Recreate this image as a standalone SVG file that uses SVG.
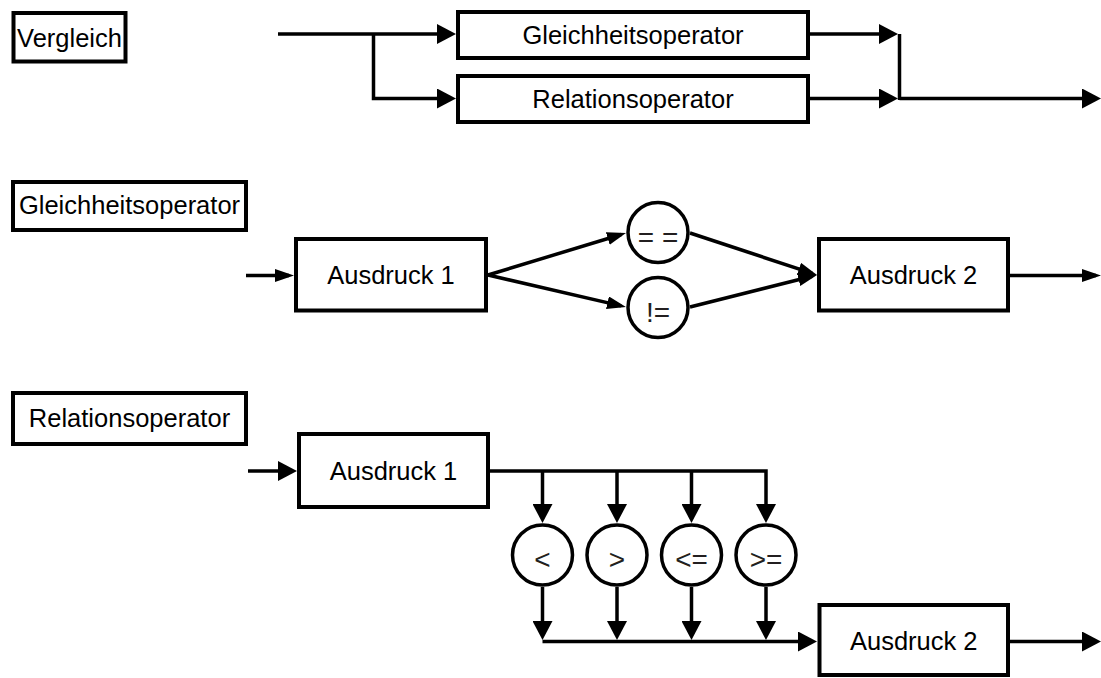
<svg xmlns="http://www.w3.org/2000/svg" width="1101" height="678" viewBox="0 0 1101 678">
  <style>
    .box { fill: #fff; stroke: #000; stroke-width: 4; }
    .op { fill: #fff; stroke: #000; stroke-width: 3.5; }
    .lbl { font-family: "Liberation Sans", Arial, sans-serif; font-size: 25.5px; fill: #000; text-anchor: middle; }
    .sym { font-family: "Liberation Sans", Arial, sans-serif; font-size: 28px; fill: #231f20; text-anchor: middle; }
    .wire { fill: none; stroke: #000; stroke-width: 3.5; }
    .big { marker-end: url(#arrow); }
    .slim { marker-end: url(#arrow-slim); }
  </style>
  <defs>
    <marker id="arrow" markerUnits="userSpaceOnUse" markerWidth="19" markerHeight="20" refX="14" refY="10" orient="auto">
      <path d="M0,0 L19,10 L0,20 Z" fill="#000"/>
    </marker>
    <marker id="arrow-slim" markerUnits="userSpaceOnUse" markerWidth="19" markerHeight="13" refX="14" refY="6.5" orient="auto">
      <path d="M0,0 L19,6.5 L0,13 Z" fill="#000"/>
    </marker>
  </defs>
  <rect width="1101" height="678" fill="#fff"/>

  <!-- connectors -->
  <g id="connectors">
    <!-- Vergleich -->
    <path class="wire big" d="M278,34 H451"/>
    <path class="wire big" d="M373.5,34 V98.5 H451"/>
    <path class="wire big" d="M810,34 H893"/>
    <path class="wire big" d="M810,98.5 H893"/>
    <path class="wire" d="M899.5,34 V100"/>
    <path class="wire big" d="M899.5,98.5 H1096"/>

    <!-- Gleichheitsoperator -->
    <path class="wire slim" d="M246,275.5 H289"/>
    <path class="wire slim" d="M488,275 L621.2,234.5"/>
    <path class="wire slim" d="M488,275 L621.1,305.9"/>
    <path class="wire slim" d="M690,233 L812.3,273.4"/>
    <path class="wire slim" d="M690,307 L812.2,276.2"/>
    <path class="wire slim" d="M1010,275.5 H1096"/>

    <!-- Relationsoperator -->
    <path class="wire big" d="M248,471 H292"/>
    <path class="wire big" d="M490,471 H766 V518"/>
    <path class="wire big" d="M542.5,471 V518"/>
    <path class="wire big" d="M617,471 V518"/>
    <path class="wire big" d="M691.5,471 V518"/>
    <path class="wire big" d="M542.5,587 V635"/>
    <path class="wire big" d="M617,587 V635"/>
    <path class="wire big" d="M691.5,587 V635"/>
    <path class="wire big" d="M766,587 V635"/>
    <path class="wire big" d="M542.5,641.5 H812"/>
    <path class="wire big" d="M1010,641.5 H1096"/>
  </g>

  <!-- Vergleich -->
  <g id="title-vergleich">
    <rect class="box" x="13.5" y="13" width="112" height="48.5"/>
    <text class="lbl" x="69.5" y="47">Vergleich</text>
  </g>
  <g id="v-gleichheitsoperator">
    <rect class="box" x="458" y="12" width="350" height="46"/>
    <text class="lbl" x="633" y="44">Gleichheitsoperator</text>
  </g>
  <g id="v-relationsoperator">
    <rect class="box" x="458" y="76" width="350" height="46"/>
    <text class="lbl" x="633" y="108">Relationsoperator</text>
  </g>

  <!-- Gleichheitsoperator -->
  <g id="title-gleichheitsoperator">
    <rect class="box" x="13" y="182" width="233" height="48"/>
    <text class="lbl" x="129.5" y="214">Gleichheitsoperator</text>
  </g>
  <g id="g-ausdruck1">
    <rect class="box" x="296" y="239" width="190" height="71.5"/>
    <text class="lbl" x="391" y="284">Ausdruck 1</text>
  </g>
  <g id="g-eq">
    <circle class="op" cx="658" cy="232.5" r="30"/>
    <text class="sym" x="658" y="247">= =</text>
  </g>
  <g id="g-ne">
    <circle class="op" cx="658" cy="307.5" r="30"/>
    <text class="sym" x="658" y="322">!=</text>
  </g>
  <g id="g-ausdruck2">
    <rect class="box" x="819" y="239" width="189" height="71.5"/>
    <text class="lbl" x="913.5" y="284">Ausdruck 2</text>
  </g>

  <!-- Relationsoperator -->
  <g id="title-relationsoperator">
    <rect class="box" x="13" y="393" width="233" height="51"/>
    <text class="lbl" x="129.5" y="427">Relationsoperator</text>
  </g>
  <g id="r-ausdruck1">
    <rect class="box" x="299" y="434" width="189" height="73"/>
    <text class="lbl" x="393.5" y="479.5">Ausdruck 1</text>
  </g>
  <g id="r-lt">
    <circle class="op" cx="542.5" cy="555" r="30"/>
    <text class="sym" x="542.5" y="569">&lt;</text>
  </g>
  <g id="r-gt">
    <circle class="op" cx="617" cy="555" r="30"/>
    <text class="sym" x="617" y="569">&gt;</text>
  </g>
  <g id="r-le">
    <circle class="op" cx="691.5" cy="555" r="30"/>
    <text class="sym" x="691.5" y="569">&lt;=</text>
  </g>
  <g id="r-ge">
    <circle class="op" cx="766" cy="555" r="30"/>
    <text class="sym" x="766" y="569">&gt;=</text>
  </g>
  <g id="r-ausdruck2">
    <rect class="box" x="819.5" y="605" width="188.5" height="70"/>
    <text class="lbl" x="913.75" y="650">Ausdruck 2</text>
  </g>
</svg>
